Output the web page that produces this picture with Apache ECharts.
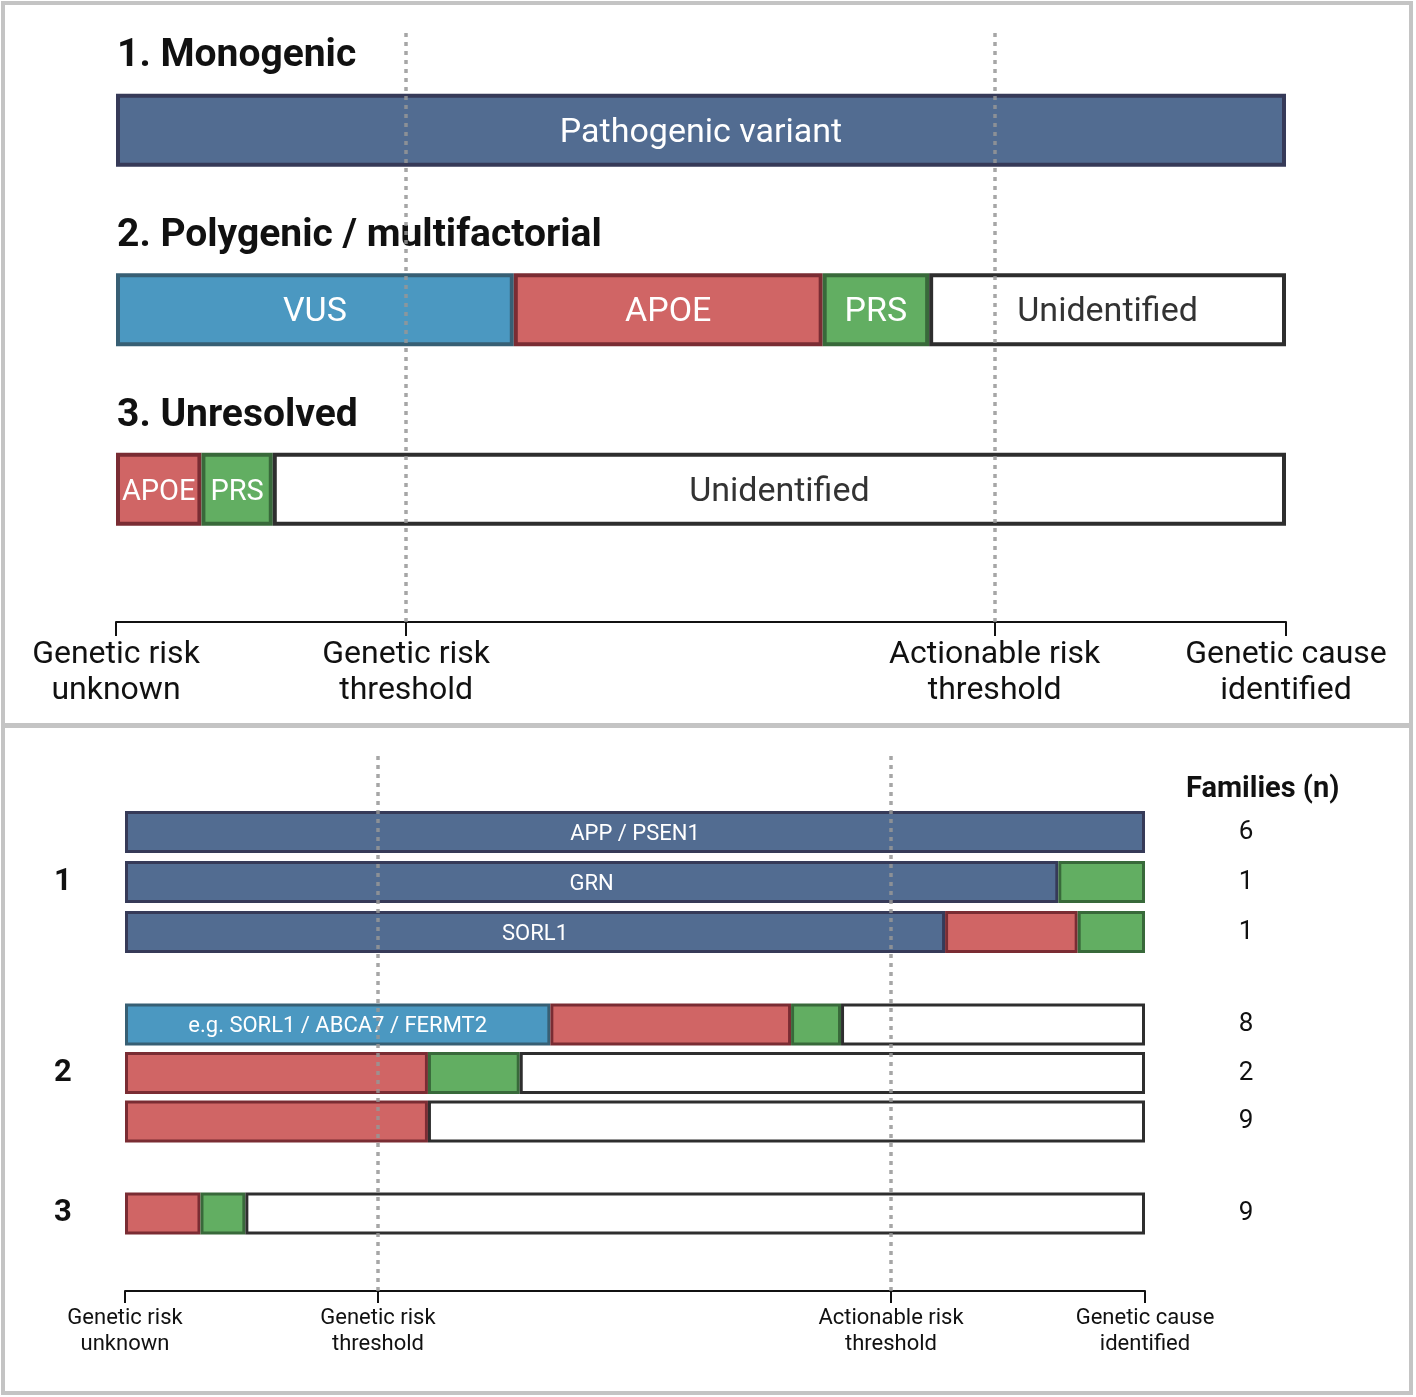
<!DOCTYPE html>
<html>
<head>
<meta charset="utf-8">
<script src="https://cdn.jsdelivr.net/npm/echarts@6/dist/echarts.min.js"></script>
<style>
html,body{margin:0;padding:0;background:#fff;}
#chart{width:1416px;height:1397px;}
</style>
</head>
<body>
<div id="chart"></div>
<script>
// ---------- DATA ----------
const panelTitles = ['1. Monogenic', '2. Polygenic / multifactorial', '3. Unresolved'];
const tickValues = [0, 24.8, 75.1, 100];
const tickLabels = ['Genetic risk\nunknown', 'Genetic risk\nthreshold', 'Actionable risk\nthreshold', 'Genetic cause\nidentified'];
const thresholdValues = [24.8, 75.1];

// top panel rows: Monogenic, Polygenic, Unresolved
const topRows = ['Monogenic', 'Polygenic', 'Unresolved'];
const topPathogenic = [100, null, null];
const topVUS = [null, 34.0, null];
const topAPOE = [null, 26.4, 7.3];
const topPRS = [null, 9.1, 6.1];
const topUnidentified = [null, 30.5, 86.6];
const topLabels = {
  Pathogenic: 'Pathogenic variant', VUS: 'VUS', APOE: 'APOE', PRS: 'PRS', Unidentified: 'Unidentified'
};

// bottom panel rows
const bottomGroups = ['1', '2', '3'];
const rowGroup = [0, 0, 0, 1, 1, 1, 2];
const familiesN = [6, 1, 1, 8, 2, 9, 9];
const botPathogenic = [100, 91.5, 80.4, null, null, null, null];
const botVUS = [null, null, null, 41.7, null, null, null];
const botAPOE = [null, null, 13.0, 23.6, 29.7, 29.7, 7.4];
const botPRS = [null, 8.5, 6.6, 4.9, 9.0, null, 4.4];
const botUnidentified = [null, null, null, 29.8, 61.3, 70.3, 88.2];
const botPathogenicLabels = ['APP / PSEN1', 'GRN', 'SORL1', '', '', '', ''];
const botVUSLabels = ['', '', '', 'e.g. SORL1 / ABCA7 / FERMT2', '', '', ''];
const familiesTitle = 'Families (n)';

// ---------- STYLE ----------
const FONT = 'Roboto';
const segStyle = {
  Pathogenic: {fill: '#526c91', border: '#363a58', text: '#ffffff'},
  VUS: {fill: '#4b98c1', border: '#375f74', text: '#ffffff'},
  APOE: {fill: '#d06565', border: '#7a2c33', text: '#ffffff'},
  PRS: {fill: '#62ae62', border: '#38693a', text: '#ffffff'},
  Unidentified: {fill: '#ffffff', border: '#2e2e2e', text: '#333333'}
};
const segOrder = ['Pathogenic', 'VUS', 'APOE', 'PRS', 'Unidentified'];
// label size per top row (narrow segments in row 3 use a smaller font)
const topLabelSize = {Unidentified: [34, 34, 34]};
const defaultTopLabelSize = [34, 34, 29];

const chart = echarts.init(document.getElementById('chart'), null, {renderer: 'canvas'});

const grids = [];
const xAxes = [];
const yAxes = [];
const series = [];
const dotted = {color: 'rgba(150,150,150,0.85)', width: 3.5, type: [4, 5]};

// ----- top bars grid (index 0)
const TOP_L = 116, TOP_W = 1170;
grids.push({left: TOP_L, width: TOP_W, top: 40.5, height: 538.5, outerBoundsMode: 'none'});
xAxes.push({gridIndex: 0, type: 'value', min: 0, max: 100, show: false});
yAxes.push({gridIndex: 0, type: 'category', data: topRows, inverse: true, show: false});
const topData = {Pathogenic: topPathogenic, VUS: topVUS, APOE: topAPOE, PRS: topPRS, Unidentified: topUnidentified};
segOrder.forEach(k => {
  const sizes = topLabelSize[k] || defaultTopLabelSize;
  series.push({
    type: 'bar', name: k, xAxisIndex: 0, yAxisIndex: 0, stack: 'top',
    barWidth: 73, z: 2,
    data: topData[k].map((v, i) => ({value: v, label: {fontSize: sizes[i]}})),
    itemStyle: {color: segStyle[k].fill, borderColor: segStyle[k].border, borderWidth: 4},
    label: {show: true, position: 'inside', offset: [0, 3], color: segStyle[k].text, fontSize: 34, fontFamily: FONT,
      formatter: () => topLabels[k]},
    silent: true
  });
});

// ----- top axis grid (index 1)
grids.push({left: TOP_L, width: TOP_W, top: 28, height: 594, outerBoundsMode: 'none'});
xAxes.push({
  gridIndex: 1, type: 'value', min: 0, max: 100, position: 'bottom',
  axisLine: {show: true, lineStyle: {color: '#111', width: 2}},
  axisTick: {show: true, customValues: tickValues, length: 14, lineStyle: {color: '#111', width: 2}},
  axisLabel: {show: true, customValues: tickValues, margin: 15, color: '#111', fontSize: 32, lineHeight: 36, fontFamily: FONT,
    formatter: v => tickLabels[tickValues.indexOf(v)] || ''},
  splitLine: {show: false}
});
yAxes.push({gridIndex: 1, type: 'value', min: 0, max: 1, show: false});
series.push({
  type: 'scatter', xAxisIndex: 1, yAxisIndex: 1, data: [[0, 0]], symbolSize: 0, z: 20, silent: true,
  markLine: {silent: true, symbol: 'none', label: {show: false}, lineStyle: dotted,
    data: thresholdValues.map(v => ({xAxis: v}))}
});

// ----- bottom group grids
const BOT_L = 125, BOT_W = 1020;
const groupGeom = [
  {top: 807, height: 150},
  {top: 1000.25, height: 145.5},
  {top: 1188.5, height: 50}
];
const botData = {Pathogenic: botPathogenic, VUS: botVUS, APOE: botAPOE, PRS: botPRS, Unidentified: botUnidentified};
bottomGroups.forEach((g, gi) => {
  const gIndex = grids.length;
  grids.push({left: BOT_L, width: BOT_W, top: groupGeom[gi].top, height: groupGeom[gi].height, outerBoundsMode: 'none'});
  const rows = [];
  rowGroup.forEach((rg, ri) => { if (rg === gi) rows.push(ri); });
  const mid = Math.floor((rows.length - 1) / 2);
  xAxes.push({gridIndex: gIndex, type: 'value', min: 0, max: 100, show: false});
  const yLeft = yAxes.length;
  yAxes.push({gridIndex: gIndex, type: 'category', inverse: true, position: 'left',
    data: rows.map((r, i) => i === mid ? g : ''),
    axisLine: {show: false}, axisTick: {show: false},
    axisLabel: {show: true, align: 'center', margin: 62, fontSize: 31, fontWeight: 'bold', color: '#111', fontFamily: FONT}
  });
  yAxes.push({gridIndex: gIndex, type: 'category', inverse: true, position: 'right',
    data: rows.map(r => String(familiesN[r])),
    axisLine: {show: false}, axisTick: {show: false},
    axisLabel: {show: true, align: 'center', margin: 101, fontSize: 26, color: '#111', fontFamily: FONT}
  });
  segOrder.forEach(k => {
    const lbls = k === 'Pathogenic' ? botPathogenicLabels : (k === 'VUS' ? botVUSLabels : null);
    series.push({
      type: 'bar', name: k + g, xAxisIndex: xAxes.length - 1, yAxisIndex: yLeft, stack: 'g' + g,
      barWidth: 42, z: 2, silent: true,
      data: rows.map(r => botData[k][r]),
      itemStyle: {color: segStyle[k].fill, borderColor: segStyle[k].border, borderWidth: 3},
      label: {show: !!lbls, position: 'inside', offset: [0, 2], color: '#fff', fontSize: 22, fontFamily: FONT,
        formatter: p => lbls ? lbls[rows[p.dataIndex]] : ''}
    });
  });
});

// ----- bottom axis grid
const axG = grids.length;
grids.push({left: BOT_L, width: BOT_W, top: 755, height: 536, outerBoundsMode: 'none'});
xAxes.push({
  gridIndex: axG, type: 'value', min: 0, max: 100, position: 'bottom',
  axisLine: {show: true, lineStyle: {color: '#111', width: 2}},
  axisTick: {show: true, customValues: tickValues, length: 12, lineStyle: {color: '#111', width: 2}},
  axisLabel: {show: true, customValues: tickValues, margin: 14, color: '#111', fontSize: 22, lineHeight: 26, fontFamily: FONT,
    formatter: v => tickLabels[tickValues.indexOf(v)] || ''},
  splitLine: {show: false}
});
yAxes.push({gridIndex: axG, type: 'value', min: 0, max: 1, show: false});
series.push({
  type: 'scatter', xAxisIndex: xAxes.length - 1, yAxisIndex: yAxes.length - 1, data: [[0, 0]], symbolSize: 0, z: 20, silent: true,
  markLine: {silent: true, symbol: 'none', label: {show: false}, lineStyle: dotted,
    data: thresholdValues.map(v => ({xAxis: v}))}
});

const titleY = [56, 236, 416];
const graphic = [
  {type: 'rect', shape: {x: 3, y: 3, width: 1408, height: 722}, style: {fill: 'none', stroke: '#c4c4c4', lineWidth: 4}, z: 0, silent: true},
  {type: 'rect', shape: {x: 3, y: 726, width: 1408, height: 667}, style: {fill: 'none', stroke: '#c4c4c4', lineWidth: 4}, z: 0, silent: true},
  {type: 'text', left: 1186, top: 775, style: {text: familiesTitle, font: 'bold 29px Roboto', fill: '#111'}, silent: true}
];
panelTitles.forEach((t, i) => {
  graphic.push({type: 'text', x: 117, y: titleY[i], style: {text: t, font: 'bold 39px Roboto', fill: '#111', verticalAlign: 'middle', textVerticalAlign: 'middle'}, silent: true});
});

chart.setOption({
  animation: false,
  backgroundColor: '#ffffff',
  textStyle: {fontFamily: FONT},
  grid: grids,
  xAxis: xAxes,
  yAxis: yAxes,
  series: series,
  graphic: graphic
});
</script>
</body>
</html>
